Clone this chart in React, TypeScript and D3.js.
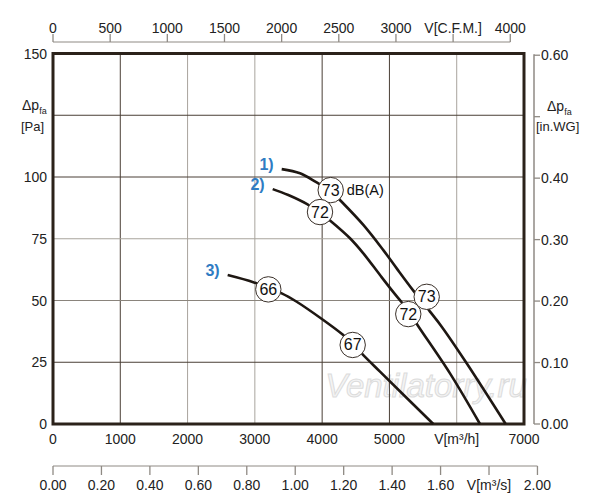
import * as d3 from "d3";

// fan curves: [V m³/h, Δp Pa]
const curve1: [number, number][] = [
  [3399, 103.2], [3671, 101.5], [3919, 97.8], [4127, 94.4], [4264, 90.7], [4612, 80.6],
  [4909, 70.4], [5108, 63.0], [5355, 54.0], [5603, 45.5], [5777, 39.4], [6148, 24.6], [6728, 0],
];
const curve2: [number, number][] = [
  [3265, 95.1], [3497, 92.7], [3770, 89.1], [3968, 85.6], [4117, 82.4], [4414, 75.2],
  [4612, 69.1], [4860, 60.3], [5058, 53.4], [5182, 49.3], [5295, 45.2], [5429, 39.6],
  [5900, 20.5], [6346, 0],
];
const curve3: [number, number][] = [
  [2596, 60.3], [2977, 57.4], [3200, 55.0], [3399, 52.9], [3622, 49.5], [4017, 42.1],
  [4314, 36.0], [4454, 32.4], [4612, 27.9], [4860, 21.2], [5652, 0],
];
const curves = [curve1, curve2, curve3];

const curveNames = ["1)", "2)", "3)"];
// noise level markers [V, Δp, dB]
const noiseMarks: [number, number, string][] = [
  [4127, 94.7, "73"], [5554, 51.5, "73"],
  [3968, 85.8, "72"], [5280, 44.5, "72"],
  [3200, 54.5, "66"], [4454, 32.0, "67"],
];

const xTicksM3h = [0, 1000, 2000, 3000, 4000, 5000, 6000, 7000];
const yTicksPa = [0, 25, 50, 75, 100, 125, 150];
const cfmTicks = [0, 500, 1000, 1500, 2000, 2500, 3000, 3500, 4000];
const m3sTicks = [0, 0.2, 0.4, 0.6, 0.8, 1.0, 1.2, 1.4, 1.6, 1.8, 2.0];
const inwgTicks = [0, 0.1, 0.2, 0.3, 0.4, 0.5, 0.6];

// grid lines that print dark, the rest are grey
const darkX = [1000, 4000, 5000];
const darkY = [25, 100, 125];

const W = 600;
const H = 500;
const font = "'Liberation Sans', Arial, sans-serif";
const axisGrey = "#8f8a84";
const ink = "#1e1712";

const x = d3.scaleLinear().domain([0, 7000]).range([53, 524]);
const y = d3.scaleLinear().domain([0, 150]).range([424, 53.5]);
const CFM = 1.699; // m³/h per cfm
const INWG = 248.84; // Pa per in.WG

const line = d3
  .line<[number, number]>()
  .x((d) => x(d[0]))
  .y((d) => y(d[1]))
  .curve(d3.curveCatmullRom.alpha(0.5));

function DeltaP({ px, py }: { px: number; py: number }) {
  return (
    <text x={px} y={py} fontSize={14} fill="#222">
      Δp<tspan fontSize={9} dy={4}>fa</tspan>
    </text>
  );
}

export default function App() {
  const topY = 42;
  const m3sY = 466;
  const rightX = 534;

  return (
    <svg
      width={W}
      height={H}
      style={{ position: "absolute", left: 0, top: 0, background: "#fff" }}
      fontFamily={font}
    >
      {/* watermark */}
      <text
        x={426}
        y={397}
        textAnchor="middle"
        fontSize={33}
        fontStyle="italic"
        fill="#f4f4f4"
        stroke="#dcdcdc"
        strokeWidth={1}
      >
        Ventilatorry.ru
      </text>

      {/* grid */}
      {xTicksM3h.slice(1, -1).map((t) => (
        <line
          key={"gx" + t}
          x1={x(t)}
          x2={x(t)}
          y1={y(0)}
          y2={y(150)}
          stroke={darkX.includes(t) ? "#4a3f36" : "#a9a49d"}
          strokeWidth={1}
        />
      ))}
      {yTicksPa.slice(1, -1).map((t) => (
        <line
          key={"gy" + t}
          x1={x(0)}
          x2={x(7000)}
          y1={y(t)}
          y2={y(t)}
          stroke={darkY.includes(t) ? "#4a3f36" : t === 50 ? "#8a847c" : "#a9a49d"}
          strokeWidth={1}
        />
      ))}

      {/* frame */}
      <rect
        x={x(0)}
        y={y(150)}
        width={x(7000) - x(0)}
        height={y(0) - y(150)}
        fill="none"
        stroke="#2b221a"
        strokeWidth={3}
      />

      {/* curves */}
      {curves.map((c, i) => (
        <path key={"c" + i} d={line(c) || ""} fill="none" stroke={ink} strokeWidth={2.6} />
      ))}

      {noiseMarks.map(([v, p, db], i) => (
        <g key={"n" + i} transform={`translate(${x(v)},${y(p)})`}>
          <circle r={12.7} fill="#fff" stroke="#3a3029" strokeWidth={1} />
          <text y={5.5} textAnchor="middle" fontSize={16} fill="#111">
            {db}
          </text>
        </g>
      ))}
      <text x={x(4127) + 16} y={y(94.7) + 5} fontSize={14.5} fill="#111">
        dB(A)
      </text>

      {curves.map((c, i) => (
        <text
          key={"l" + i}
          x={x(c[0][0]) - 8}
          y={y(c[0][1]) + 1}
          textAnchor="end"
          fontSize={16}
          fontWeight="bold"
          fill="#2f7cc3"
        >
          {curveNames[i]}
        </text>
      ))}

      {/* left axis labels */}
      {yTicksPa.filter((t) => t !== 125).map((t) => (
        <text key={"yl" + t} x={47} y={y(t) + 5} textAnchor="end" fontSize={14} fill="#222">
          {t}
        </text>
      ))}
      <DeltaP px={22} py={110} />
      <text x={21} y={131} fontSize={13} fill="#222">
        [Pa]
      </text>

      {/* bottom m³/h labels */}
      {xTicksM3h.map((t) => (
        <text key={"xl" + t} x={x(t)} y={444} textAnchor="middle" fontSize={14} fill="#222">
          {t === 6000 ? "V[m³/h]" : t}
        </text>
      ))}

      {/* top C.F.M. axis */}
      <line x1={x(0)} x2={x(4000 * CFM)} y1={topY} y2={topY} stroke={axisGrey} />
      {cfmTicks.map((t) => (
        <g key={"ct" + t}>
          <line x1={x(t * CFM)} x2={x(t * CFM)} y1={topY} y2={topY - 8} stroke={axisGrey} strokeWidth={1.3} />
          <text x={x(t * CFM)} y={33} textAnchor="middle" fontSize={14} fill="#222">
            {t === 3500 ? "V[C.F.M.]" : t}
          </text>
        </g>
      ))}

      {/* bottom m³/s axis */}
      <line x1={x(0)} x2={x(2 * 3600)} y1={m3sY} y2={m3sY} stroke={axisGrey} />
      {m3sTicks.map((t) => (
        <g key={"st" + t}>
          <line x1={x(t * 3600)} x2={x(t * 3600)} y1={m3sY} y2={m3sY + 9} stroke={axisGrey} strokeWidth={1.3} />
          <text x={x(t * 3600)} y={490} textAnchor="middle" fontSize={14} fill="#222">
            {Math.abs(t - 1.8) < 1e-9 ? "V[m³/s]" : t.toFixed(2)}
          </text>
        </g>
      ))}

      {/* right in.WG axis */}
      <line x1={rightX} x2={rightX} y1={y(0.6 * INWG) - 1} y2={y(0)} stroke={axisGrey} strokeWidth={1.5} />
      {inwgTicks.map((t) => (
        <g key={"wt" + t}>
          <line x1={rightX} x2={rightX + 6} y1={y(t * INWG)} y2={y(t * INWG)} stroke={axisGrey} strokeWidth={1.3} />
          {t !== 0.5 && (
            <text x={rightX + 7} y={y(t * INWG) + 5} fontSize={14} fill="#222">
              {t.toFixed(2)}
            </text>
          )}
        </g>
      ))}
      <DeltaP px={547} py={111} />
      <text x={536} y={131} fontSize={13} fill="#222">
        [in.WG]
      </text>
    </svg>
  );
}
